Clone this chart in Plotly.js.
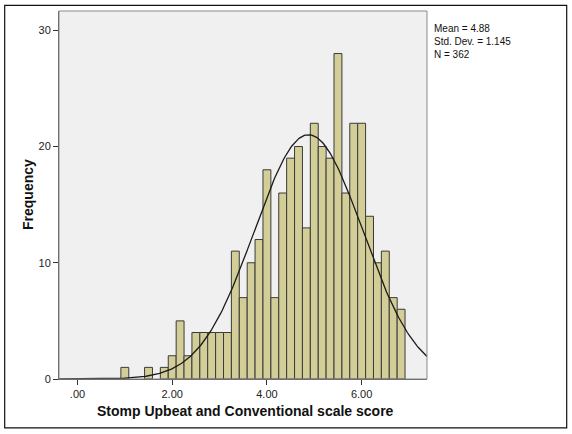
<!DOCTYPE html>
<html>
<head>
<meta charset="utf-8">
<script src="https://cdn.plot.ly/plotly-3.0.1.min.js"></script>
<style>html,body{margin:0;padding:0;background:#fff;}#chart{width:572px;height:434px;}</style>
</head>
<body>
<div id="chart"></div>
<script>
// Bin centers (bin width 1/6) and frequencies
var binCenters = [1.000, 1.500, 1.833, 2.000, 2.167, 2.333, 2.500, 2.667, 2.833, 3.000, 3.167,
                  3.333, 3.500, 3.667, 3.833, 4.000, 4.167, 4.333, 4.500, 4.667, 4.833,
                  5.000, 5.167, 5.333, 5.500, 5.667, 5.833, 6.000, 6.167, 6.333, 6.500, 6.667, 6.833];
var frequencies = [1, 1, 1, 2, 5, 2, 4, 4, 4, 4, 4,
                   11, 7, 10, 12, 18, 7, 16, 19, 20, 13,
                   22, 20, 19, 28, 16, 22, 22, 14, 10, 11, 7, 6];
var binWidth = 1/6;
var statMean = 4.88, statSD = 1.145, statN = 362;
var xTickVals = [0, 2, 4, 6];
var xTickText = ['.00', '2.00', '4.00', '6.00'];
var yTickVals = [0, 10, 20, 30];
var statsLines = ['Mean = 4.88', 'Std. Dev. = 1.145', 'N = 362'];

var xMin = -0.39, xMax = 7.38;
// fitted normal curve (scaled to counts)
var cx = [], cy = [];
for (var i = 0; i <= 300; i++) {
  var x = xMin + (xMax - xMin) * i / 300;
  var z = (x - statMean) / statSD;
  cx.push(x);
  cy.push(statN * binWidth / (statSD * Math.sqrt(2 * Math.PI)) * Math.exp(-0.5 * z * z));
}

var traces = [
  {type: 'bar', x: binCenters, y: frequencies, width: binWidth,
   marker: {color: '#D3CE97', line: {color: '#3a3a3a', width: 1}},
   hoverinfo: 'x+y', showlegend: false},
  {type: 'scatter', mode: 'lines', x: cx, y: cy,
   line: {color: '#1a1a1a', width: 1.3}, hoverinfo: 'skip', showlegend: false}
];

var titleFont = {size: 14, color: '#111', family: 'Arial, "Liberation Sans", sans-serif', weight: 'bold'};

var layout = {
  width: 572, height: 434,
  margin: {l: 59, r: 145, t: 11, b: 55, pad: 0},
  paper_bgcolor: '#ffffff', plot_bgcolor: '#F0F0F0',
  font: {family: 'Arial, "Liberation Sans", sans-serif', size: 11, color: '#222'},
  bargap: 0,
  xaxis: {range: [xMin, xMax], tickvals: xTickVals, ticktext: xTickText,
          ticks: 'outside', ticklen: 5, tickcolor: '#333', showgrid: false, zeroline: false,
          showline: true, linecolor: '#555', linewidth: 1,
          tickfont: {size: 11, color: '#222'}},
  yaxis: {range: [0, 31.66], tickvals: yTickVals,
          ticks: 'outside', ticklen: 5, tickcolor: '#333', showgrid: false, zeroline: false,
          showline: true, linecolor: '#555', linewidth: 1,
          tickfont: {size: 11, color: '#222'}},
  shapes: [
    {type: 'rect', xref: 'paper', yref: 'paper', x0: 0, x1: 1, y0: 0, y1: 1,
     line: {color: '#8a8a8a', width: 1}, fillcolor: 'rgba(0,0,0,0)', layer: 'above'},
    {type: 'rect', xref: 'paper', yref: 'paper', x0: -0.1476, x1: 1.3796, y0: -0.133, y1: 1.0155,
     line: {color: '#111', width: 1.2}, fillcolor: 'rgba(0,0,0,0)'}
  ],
  annotations: [
    {xref: 'paper', yref: 'paper', x: 1.0125, y: 0.9735, xanchor: 'left', yanchor: 'top',
     align: 'left', showarrow: false, text: statsLines.join('<br>'),
     font: {size: 10, color: '#111', family: 'Arial, "Liberation Sans", sans-serif'}},
    {xref: 'paper', yref: 'paper', x: 0.507, y: -0.0875, xanchor: 'center', yanchor: 'middle',
     showarrow: false, text: 'Stomp Upbeat and Conventional scale score', font: titleFont},
    {xref: 'paper', yref: 'paper', x: -0.0842, y: 0.5, xanchor: 'center', yanchor: 'middle',
     textangle: -90, showarrow: false, text: 'Frequency', font: titleFont}
  ]
};

Plotly.newPlot('chart', traces, layout, {staticPlot: true, displayModeBar: false});
</script>
</body>
</html>
